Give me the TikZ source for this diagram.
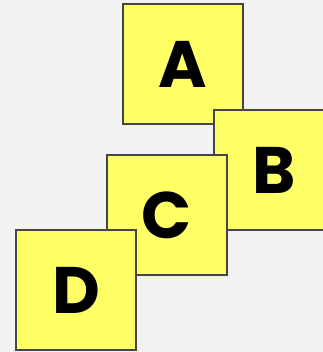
\documentclass[tikz,border=0pt]{standalone}
\usepackage{fontspec}
\setmainfont{Poppins}
\definecolor{bgc}{HTML}{F2F2F2}
\definecolor{boxfill}{HTML}{FFFF66}
\definecolor{boxline}{HTML}{454545}
\begin{document}
\begin{tikzpicture}[x=1bp,y=-1bp,
  card/.style={draw=boxline,fill=boxfill,line width=1.5bp,minimum width=120bp,minimum height=120bp,inner sep=0pt,font=\fontsize{66}{66}\selectfont\bfseries}]
\fill[bgc] (0,0) rectangle (323,352);
\useasboundingbox (0,0) rectangle (323,352);
\begin{scope}
\clip (0,0) rectangle (323,352);
\node[card] (A) at (183,64) {A};
\node[card] (B) at (274,170) {B};
\node[card] (C) at (167,215) {C};
\node[card] (D) at (76,290) {D};
\end{scope}
\end{tikzpicture}
\end{document}
